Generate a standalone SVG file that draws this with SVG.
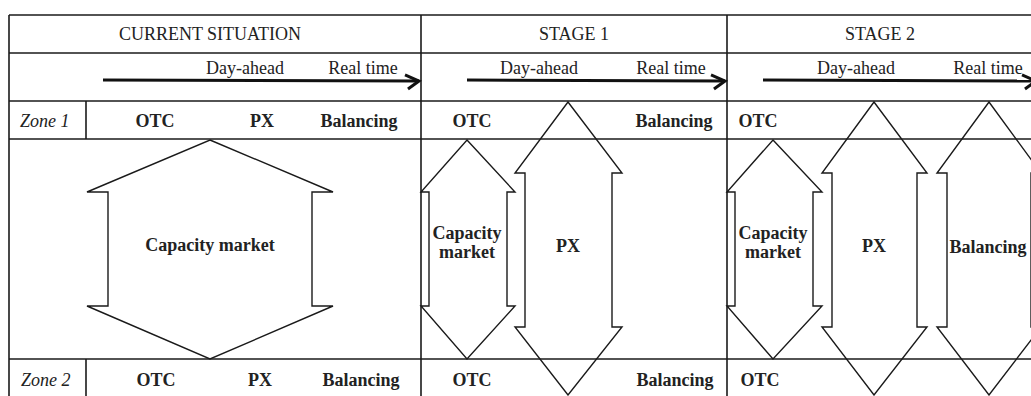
<svg xmlns="http://www.w3.org/2000/svg" width="1031" height="396" viewBox="0 0 1031 396">
<style>
.grid{stroke:#1a1a1a;stroke-width:1.6;fill:none}
.shape{stroke:#1a1a1a;stroke-width:1.4;fill:none;stroke-linejoin:miter}
.time{stroke:#111;stroke-width:3;fill:none}
text{font-family:"Liberation Serif","Times New Roman",serif;font-size:18px;fill:#222}
.b{font-weight:bold;text-anchor:middle}
.c{text-anchor:middle}
.i{font-style:italic}
</style>
<defs>
<marker id="chev" markerUnits="userSpaceOnUse" markerWidth="20" markerHeight="20" viewBox="-16 -10 20 20" refX="0" refY="0" orient="auto">
<path d="M-14,-6 L0,0 L-11,8" fill="none" stroke="#111" stroke-width="3"/>
</marker>
</defs>
<rect width="1031" height="396" fill="#fff"/>
<g id="grid">
<line class="grid" x1="9" y1="15" x2="1031" y2="15"/>
<line class="grid" x1="9" y1="53" x2="1031" y2="53"/>
<line class="grid" x1="9" y1="101" x2="1031" y2="101"/>
<line class="grid" x1="9" y1="139" x2="1031" y2="139"/>
<line class="grid" x1="9" y1="359" x2="1031" y2="359"/>
<line class="grid" x1="9" y1="15" x2="9" y2="396"/>
<line class="grid" x1="86" y1="101" x2="86" y2="139"/>
<line class="grid" x1="86" y1="359" x2="86" y2="396"/>
<line class="grid" x1="421" y1="15" x2="421" y2="396"/>
<line class="grid" x1="727" y1="15" x2="727" y2="396"/>
</g>
<g id="headers">
<text class="c" x="210" y="40">CURRENT SITUATION</text>
<text class="c" x="574" y="40">STAGE 1</text>
<text class="c" x="880" y="40">STAGE 2</text>
</g>
<g id="connectors">
<line class="time" x1="103" y1="80" x2="419" y2="81" marker-end="url(#chev)"/>
<line class="time" x1="467" y1="80" x2="725" y2="81" marker-end="url(#chev)"/>
<line class="time" x1="763" y1="80" x2="1036" y2="81" marker-end="url(#chev)"/>
</g>
<g id="timeline-labels">
<text class="c" x="245" y="74">Day-ahead</text>
<text class="c" x="363" y="74">Real time</text>
<text class="c" x="539" y="74">Day-ahead</text>
<text class="c" x="671" y="74">Real time</text>
<text class="c" x="856" y="74">Day-ahead</text>
<text class="c" x="988" y="74">Real time</text>
</g>
<g id="zone1">
<text class="i" x="20" y="127">Zone 1</text>
<text class="b" x="155" y="127">OTC</text>
<text class="b" x="262" y="127">PX</text>
<text class="b" x="359" y="127">Balancing</text>
<text class="b" x="472" y="127">OTC</text>
<text class="b" x="674" y="127">Balancing</text>
<text class="b" x="758" y="127">OTC</text>
</g>
<g id="zone2">
<text class="i" x="21" y="386">Zone 2</text>
<text class="b" x="156" y="386">OTC</text>
<text class="b" x="260" y="386">PX</text>
<text class="b" x="361" y="386">Balancing</text>
<text class="b" x="472" y="386">OTC</text>
<text class="b" x="675" y="386">Balancing</text>
<text class="b" x="760" y="386">OTC</text>
</g>
<g id="current-capacity-market">
<polygon class="shape" points="210,140 333,192 312,192 312,306 333,306 210,359 87,306 108,306 108,192 87,192"/>
<text class="b" x="210" y="251">Capacity market</text>
</g>
<g id="stage1-capacity-market">
<polygon class="shape" points="467,140 515,192 507,192 507,306 515,306 467,359 421,306 429,306 429,192 421,192"/>
<text class="b" x="467" y="239">Capacity</text>
<text class="b" x="467" y="258">market</text>
</g>
<g id="stage1-px">
<polygon class="shape" points="568,102 622,173 612,173 612,327 622,327 568,395 515,327 525,327 525,173 515,173"/>
<text class="b" x="568" y="252">PX</text>
</g>
<g id="stage2-capacity-market">
<polygon class="shape" points="773,140 822,192 813,192 813,306 822,306 773,359 727,306 735,306 735,192 727,192"/>
<text class="b" x="773" y="239">Capacity</text>
<text class="b" x="773" y="258">market</text>
</g>
<g id="stage2-px">
<polygon class="shape" points="874,102 927,173 917,173 917,327 927,327 874,395 822,327 832,327 832,173 822,173"/>
<text class="b" x="874" y="252">PX</text>
</g>
<g id="stage2-balancing">
<polygon class="shape" points="989,102 1041,173 1031,173 1031,327 1041,327 989,395 937,327 947,327 947,173 937,173"/>
<text class="b" x="988" y="253">Balancing</text>
</g>
</svg>
